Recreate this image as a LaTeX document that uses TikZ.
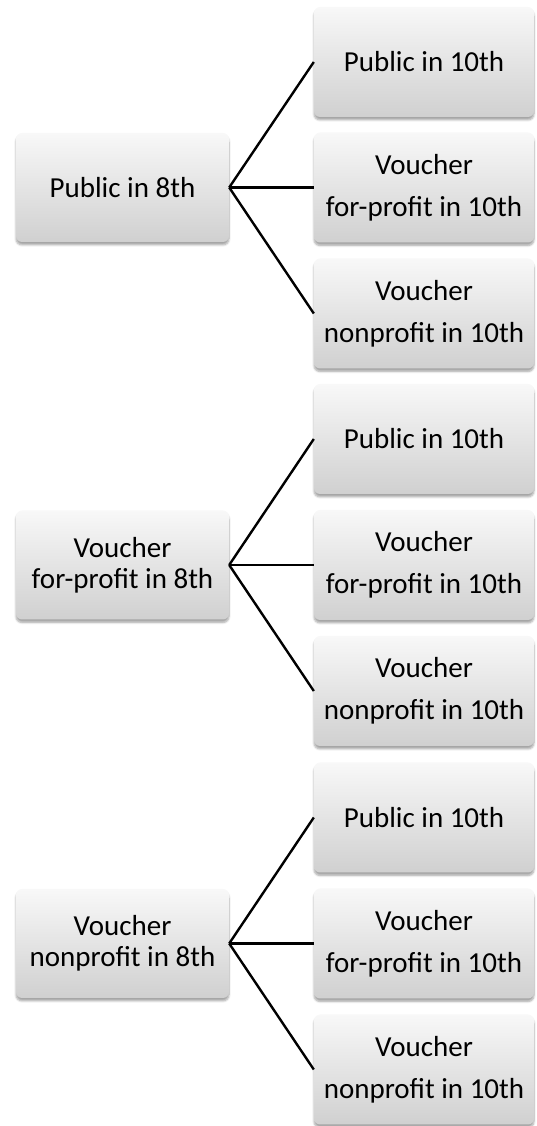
\documentclass[tikz,border=0pt]{standalone}
\usepackage{fontspec}
\setmainfont{Carlito}
\usetikzlibrary{shadows.blur}
\definecolor{boxtop}{HTML}{F8F8F8}
\definecolor{boxbot}{HTML}{D0D0D0}
\tikzset{
  box/.style={rounded corners=6pt, top color=boxtop, bottom color=boxbot, draw=none,
    blur shadow={shadow xshift=0pt, shadow yshift=-3pt, shadow blur steps=6, shadow opacity=35},
    align=center, inner sep=0pt},
  lbox/.style={box, minimum width=213pt, minimum height=109pt, font=\fontsize{29}{31}\selectfont},
  rbox/.style={box, minimum width=220pt, minimum height=110pt, font=\fontsize{29}{42}\selectfont},
  link/.style={line width=2.4pt, black}
}
\begin{document}
\begin{tikzpicture}[x=1pt,y=1pt]
\useasboundingbox (0,0) rectangle (536,1126);
% group 1
\node[lbox] (L1) at (122.5,938.5) {Public in 8th};
\node[rbox] (R11) at (424,1064) {Public in 10th};
\node[rbox] (R12) at (424,938.5) {Voucher\\for-profit in 10th};
\node[rbox] (R13) at (424,812.5) {Voucher\\nonprofit in 10th};
% group 2
\node[lbox] (L2) at (122.5,561) {Voucher\\for-profit in 8th};
\node[rbox] (R21) at (424,687) {Public in 10th};
\node[rbox] (R22) at (424,561) {Voucher\\for-profit in 10th};
\node[rbox] (R23) at (424,435) {Voucher\\nonprofit in 10th};
% group 3
\node[lbox] (L3) at (122.5,182.5) {Voucher\\nonprofit in 8th};
\node[rbox] (R31) at (424,308.5) {Public in 10th};
\node[rbox] (R32) at (424,182.5) {Voucher\\for-profit in 10th};
\node[rbox] (R33) at (424,56.5) {Voucher\\nonprofit in 10th};
% connectors
\foreach \g in {1,2,3}{
  \foreach \r in {1,2,3}{
    \draw[link] (L\g.east) -- (R\g\r.west);
  }
}
\end{tikzpicture}
\end{document}
